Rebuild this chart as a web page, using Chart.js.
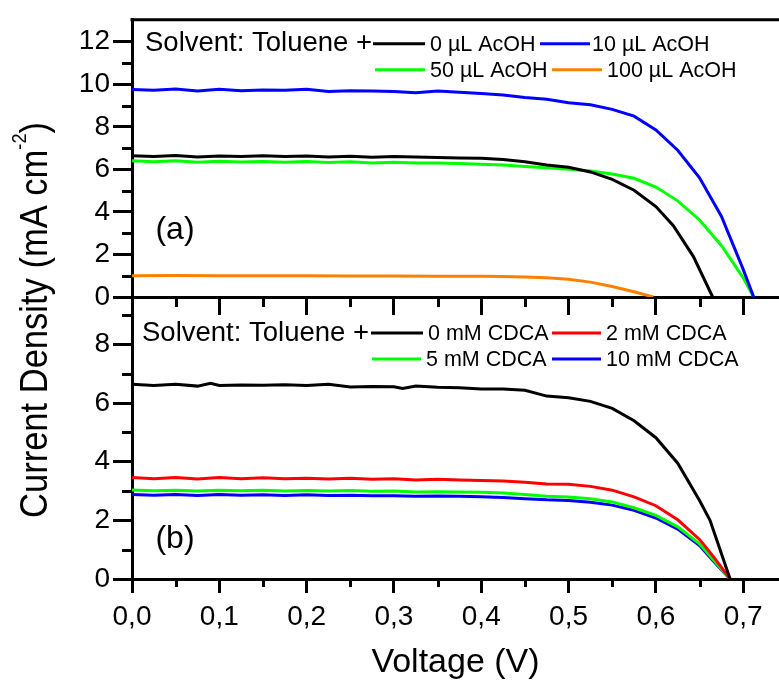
<!DOCTYPE html>
<html>
<head>
<meta charset="utf-8">
<title>J-V curves</title>
<script src="https://cdn.jsdelivr.net/npm/chart.js@4.4.1/dist/chart.umd.min.js"></script>
<style>
    html, body { margin: 0; padding: 0; background: #fff; }
    #wrap { position: relative; width: 779px; height: 681px; overflow: hidden; }
    #wrap canvas { position: absolute; left: 0; top: 0; }
</style>
</head>
<body>
<div id="wrap">
    <canvas id="chart-b" width="779" height="681"></canvas>
    <canvas id="chart-a" width="779" height="330"></canvas>
</div>
<script>
// --- DATA: [voltage (V), current density (mA cm-2)] ---
const acoh0 = [[0,6.64],[0.025,6.60],[0.05,6.65],[0.075,6.58],[0.1,6.63],[0.125,6.60],[0.15,6.64],[0.175,6.61],[0.2,6.63],[0.225,6.58],[0.25,6.62],[0.275,6.57],[0.3,6.60],[0.325,6.58],[0.35,6.56],[0.375,6.53],[0.4,6.52],[0.425,6.46],[0.45,6.36],[0.475,6.21],[0.5,6.10],[0.525,5.88],[0.55,5.53],[0.575,5.02],[0.6,4.25],[0.62,3.35],[0.643,1.90],[0.665,0]];
const acoh10 = [[0,9.75],[0.025,9.72],[0.05,9.78],[0.075,9.68],[0.1,9.76],[0.125,9.70],[0.15,9.73],[0.175,9.72],[0.2,9.76],[0.225,9.66],[0.25,9.70],[0.275,9.68],[0.3,9.66],[0.325,9.60],[0.35,9.68],[0.375,9.63],[0.4,9.56],[0.425,9.49],[0.45,9.38],[0.475,9.30],[0.5,9.13],[0.525,9.04],[0.55,8.82],[0.575,8.50],[0.6,7.85],[0.625,6.90],[0.65,5.60],[0.675,3.80],[0.7,1.30],[0.712,0]];
const acoh50 = [[0,6.40],[0.025,6.36],[0.05,6.40],[0.075,6.33],[0.1,6.38],[0.125,6.35],[0.15,6.37],[0.175,6.33],[0.2,6.37],[0.225,6.32],[0.25,6.36],[0.275,6.30],[0.3,6.33],[0.325,6.30],[0.35,6.30],[0.375,6.27],[0.4,6.24],[0.425,6.20],[0.45,6.14],[0.475,6.08],[0.5,6.00],[0.525,5.92],[0.55,5.78],[0.575,5.58],[0.6,5.17],[0.625,4.52],[0.65,3.62],[0.675,2.42],[0.7,0.90],[0.712,0]];
const acoh100 = [[0,1.00],[0.05,1.01],[0.1,1.00],[0.15,1.00],[0.2,1.00],[0.25,0.99],[0.3,0.99],[0.35,0.98],[0.4,0.97],[0.425,0.96],[0.45,0.94],[0.475,0.90],[0.5,0.83],[0.525,0.70],[0.55,0.49],[0.575,0.25],[0.597,0]];

const cdca0 = [[0,6.64],[0.025,6.60],[0.05,6.64],[0.075,6.58],[0.09,6.68],[0.1,6.60],[0.125,6.62],[0.15,6.61],[0.175,6.63],[0.2,6.60],[0.225,6.64],[0.25,6.55],[0.275,6.57],[0.3,6.56],[0.31,6.50],[0.325,6.58],[0.35,6.54],[0.375,6.52],[0.4,6.48],[0.425,6.48],[0.45,6.44],[0.475,6.24],[0.5,6.18],[0.525,6.06],[0.55,5.82],[0.575,5.40],[0.6,4.82],[0.625,3.95],[0.65,2.68],[0.662,2.00],[0.685,0]];
const cdca2 = [[0,3.46],[0.025,3.42],[0.05,3.46],[0.075,3.41],[0.1,3.46],[0.125,3.42],[0.15,3.45],[0.175,3.42],[0.2,3.44],[0.225,3.41],[0.25,3.44],[0.275,3.40],[0.3,3.42],[0.325,3.38],[0.35,3.40],[0.375,3.38],[0.4,3.36],[0.425,3.34],[0.45,3.30],[0.475,3.24],[0.5,3.23],[0.525,3.16],[0.55,3.03],[0.575,2.80],[0.6,2.50],[0.625,2.02],[0.65,1.35],[0.665,0.80],[0.685,0]];
const cdca5 = [[0,3.04],[0.025,3.01],[0.05,3.03],[0.075,3.00],[0.1,3.03],[0.125,3.01],[0.15,3.03],[0.175,3.00],[0.2,3.02],[0.225,3.00],[0.25,3.02],[0.275,2.99],[0.3,3.00],[0.325,2.97],[0.35,2.98],[0.375,2.97],[0.4,2.96],[0.425,2.93],[0.45,2.88],[0.475,2.82],[0.5,2.80],[0.525,2.74],[0.55,2.63],[0.575,2.43],[0.6,2.17],[0.625,1.78],[0.65,1.20],[0.665,0.68],[0.685,0]];
const cdca10 = [[0,2.88],[0.025,2.86],[0.05,2.88],[0.075,2.85],[0.1,2.88],[0.125,2.86],[0.15,2.87],[0.175,2.85],[0.2,2.87],[0.225,2.85],[0.25,2.86],[0.275,2.84],[0.3,2.84],[0.325,2.82],[0.35,2.83],[0.375,2.82],[0.4,2.81],[0.425,2.78],[0.45,2.74],[0.475,2.70],[0.5,2.68],[0.525,2.62],[0.55,2.52],[0.575,2.34],[0.6,2.08],[0.625,1.70],[0.65,1.14],[0.665,0.64],[0.685,0]];

const acohLabels = ['0 \u00b5L AcOH', '10 \u00b5L AcOH', '50 \u00b5L AcOH', '100 \u00b5L AcOH'];
const cdcaLabels = ['0 mM CDCA', '2 mM CDCA', '5 mM CDCA', '10 mM CDCA'];

const voltTicks = [0, 0.1, 0.2, 0.3, 0.4, 0.5, 0.6, 0.7];
const voltLabels = ['0,0', '0,1', '0,2', '0,3', '0,4', '0,5', '0,6', '0,7'];
const voltMinor = [0.05, 0.15, 0.25, 0.35, 0.45, 0.55, 0.65];
const jTicksA = [0, 2, 4, 6, 8, 10, 12];
const jMinorA = [1, 3, 5, 7, 9, 11];
const jTicksB = [0, 2, 4, 6, 8];
const jMinorB = [1, 3, 5, 7, 9];

// --- STYLES ---
const FONT = "'Liberation Sans', Arial, sans-serif";
const acohColors = ['#000000', '#0000ff', '#00ff00', '#ff8000'];
const cdcaColors = ['#000000', '#ff0000', '#00ff00', '#0000ff'];

const toPoints = arr => arr.map(([x, y]) => ({ x, y }));

const makeDatasets = (series, labels, colors) => series.map((s, i) => ({
    label: labels[i],
    data: toPoints(s),
    borderColor: colors[i],
    backgroundColor: colors[i],
    borderWidth: 3,
    pointRadius: 0,
    tension: 0,
    fill: false
}));

// --- PLUGIN: minor ticks, top frame line ---
const minorTicks = {
    id: 'minorTicks',
    afterDraw(chart, args, opts) {
        const ctx = chart.ctx;
        const area = chart.chartArea;
        const xs = chart.scales.x, ys = chart.scales.y;
        ctx.save();
        ctx.strokeStyle = '#000';
        ctx.lineWidth = 3;
        ctx.lineCap = 'butt';
        ctx.beginPath();
        opts.x.forEach(v => {
            const px = Math.round(xs.getPixelForValue(v)) + 0.5;
            ctx.moveTo(px, area.bottom);
            ctx.lineTo(px, area.bottom + opts.xLen);
        });
        opts.y.forEach(v => {
            const py = Math.round(ys.getPixelForValue(v)) + 0.5;
            ctx.moveTo(area.left, py);
            ctx.lineTo(area.left - opts.yLen, py);
        });
        if (opts.topLine) {
            ctx.moveTo(area.left - 1.5, area.top);
            ctx.lineTo(area.right, area.top);
        }
        ctx.stroke();
        ctx.restore();
    }
};

// --- PLUGIN: legend inside the panel + (a)/(b) tag ---
const panelLegend = {
    id: 'panelLegend',
    afterDraw(chart, args, opts) {
        const ctx = chart.ctx;
        const area = chart.chartArea;
        const sets = chart.data.datasets;
        ctx.save();
        ctx.fillStyle = '#000';
        ctx.textBaseline = 'middle';
        ctx.textAlign = 'left';
        ctx.font = '27.5px ' + FONT;
        ctx.fillText('Solvent: Toluene +', area.left + opts.headX, area.top + opts.rows[0]);

        ctx.font = '21.5px ' + FONT;
        sets.forEach((ds, i) => {
            const row = Math.floor(i / 2);
            const y = area.top + opts.rows[row];
            const x0 = area.left + opts.spans[i][0];
            const x1 = area.left + opts.spans[i][1];
            ctx.strokeStyle = ds.borderColor;
            ctx.lineWidth = 3;
            ctx.beginPath();
            ctx.moveTo(x0, y);
            ctx.lineTo(x1, y);
            ctx.stroke();
            ctx.fillStyle = '#000';
            ctx.fillText(ds.label, x1 + opts.gap[i], y + 1);
        });

        ctx.font = '32px ' + FONT;
        ctx.textAlign = 'center';
        ctx.fillText(opts.tag, area.left + 43, area.bottom - opts.tagUp);
        ctx.restore();
    }
};

// --- PLUGIN: shared y title spanning both panels ---
const yTitle = {
    id: 'yTitle',
    afterDraw(chart) {
        const ctx = chart.ctx;
        const main = 'Current Density (mA cm', sup = '-2', end = ')';
        ctx.save();
        ctx.fillStyle = '#000';
        ctx.textBaseline = 'alphabetic';
        ctx.textAlign = 'left';
        ctx.font = '38px ' + FONT;
        const w1 = ctx.measureText(main).width;
        const w3 = ctx.measureText(end).width;
        ctx.font = '20px ' + FONT;
        const w2 = ctx.measureText(sup).width;
        const total = w1 + w2 + w3;
        ctx.translate(47, 320);
        ctx.rotate(-Math.PI / 2);
        ctx.scale(396 / total, 1);
        let x = -total / 2;
        ctx.font = '38px ' + FONT;
        ctx.fillText(main, x, 0);
        x += w1;
        ctx.font = '20px ' + FONT;
        ctx.fillText(sup, x, -21);
        x += w2;
        ctx.font = '38px ' + FONT;
        ctx.fillText(end, x, 0);
        ctx.restore();
    }
};

// --- COMMON AXIS OPTIONS ---
const xAxis = (height, tickLen, showLabels, title) => ({
    type: 'linear',
    min: 0,
    max: 0.741,
    afterBuildTicks: s => { s.ticks = voltTicks.map(v => ({ value: v })); },
    afterFit: s => { s.height = height; },
    grid: { drawOnChartArea: false, drawTicks: true, tickLength: tickLen, lineWidth: 3, color: '#000' },
    border: { display: true, width: 3, color: '#000' },
    ticks: {
        display: showLabels,
        autoSkip: false,
        maxRotation: 0,
        padding: 7,
        color: '#000',
        font: { family: FONT, size: 28 },
        callback: (v, i) => voltLabels[i]
    },
    title: title
});

const yAxis = (max, ticks) => ({
    type: 'linear',
    min: 0,
    max: max,
    afterBuildTicks: s => { s.ticks = ticks.map(v => ({ value: v })); },
    afterFit: s => { s.width = 132; },
    grid: { drawOnChartArea: false, drawTicks: true, tickLength: 19, lineWidth: 3, color: '#000' },
    border: { display: true, width: 3, color: '#000' },
    ticks: {
        autoSkip: false,
        padding: 3,
        color: '#000',
        font: { family: FONT, size: 28 },
        callback: v => String(v)
    }
});

// --- TOP PANEL (a) ---
new Chart(document.getElementById('chart-a'), {
    type: 'line',
    data: { datasets: makeDatasets([acoh0, acoh10, acoh50, acoh100], acohLabels, acohColors) },
    options: {
        responsive: false,
        animation: false,
        layout: { autoPadding: false, padding: { top: 18, left: 0, right: 0, bottom: 0 } },
        plugins: {
            legend: { display: false },
            tooltip: { enabled: false },
            minorTicks: { x: voltMinor, y: jMinorA, xLen: 10, yLen: 10, topLine: true },
            panelLegend: {
                headX: 13, rows: [24, 50],
                spans: [[241, 293], [408, 458], [243, 293], [420, 470]],
                gap: [5, 2, 5, 5],
                tag: '(a)', tagUp: 67
            }
        },
        scales: {
            x: xAxis(33, 18, false, { display: false }),
            y: yAxis(13.03, jTicksA)
        }
    },
    plugins: [minorTicks, panelLegend]
});

// --- BOTTOM PANEL (b) ---
new Chart(document.getElementById('chart-b'), {
    type: 'line',
    data: { datasets: makeDatasets([cdca0, cdca2, cdca5, cdca10], cdcaLabels, cdcaColors) },
    options: {
        responsive: false,
        animation: false,
        layout: { autoPadding: false, padding: { top: 297, left: 0, right: 0, bottom: 0 } },
        plugins: {
            legend: { display: false },
            tooltip: { enabled: false },
            minorTicks: { x: voltMinor, y: jMinorB, xLen: 8, yLen: 10, topLine: false },
            panelLegend: {
                headX: 10, rows: [36, 62],
                spans: [[239, 291], [420, 469], [240, 289], [420, 469]],
                gap: [5, 5, 5, 5],
                tag: '(b)', tagUp: 40
            }
        },
        scales: {
            x: xAxis(102, 14, true, {
                display: true,
                text: 'Voltage (V)',
                color: '#000',
                font: { family: FONT, size: 34, lineHeight: 1 },
                padding: { top: 0, bottom: 1 }
            }),
            y: yAxis(9.62, jTicksB)
        }
    },
    plugins: [minorTicks, panelLegend, yTitle]
});
</script>
</body>
</html>
